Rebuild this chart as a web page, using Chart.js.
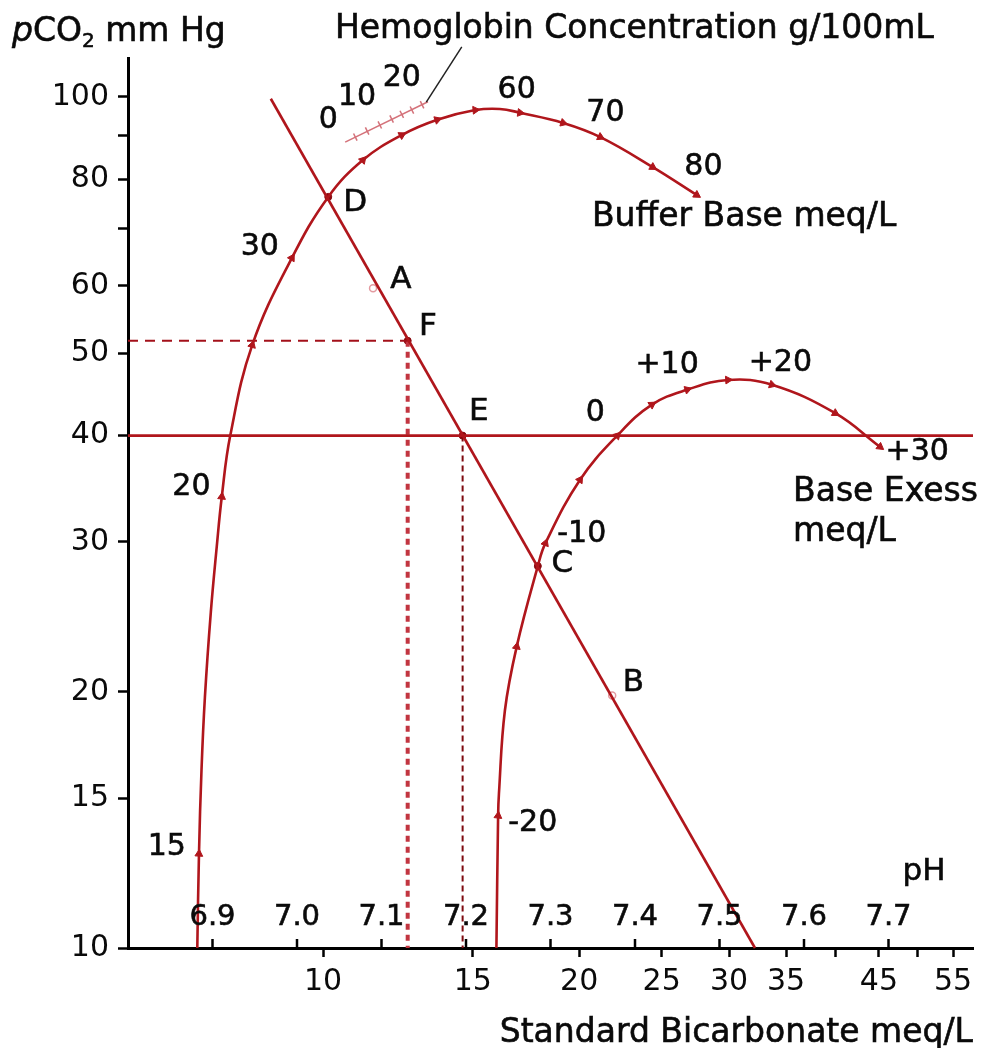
<!DOCTYPE html>
<html><head><meta charset="utf-8">
<script src="https://cdn.jsdelivr.net/npm/chart.js@4.4.1/dist/chart.umd.min.js"></script>
<style>html,body{margin:0;padding:0;background:#fff;}#wrap{width:984px;height:1048px;}</style>
</head><body><div id="wrap"><canvas id="c" width="984" height="1048"></canvas></div>
<script>
// ---- axes ----
const pHRange = [6.8, 7.8];
const pCO2Range = [10, 111.1];
const bicarbRange = [5.9, 58.05];
const pCO2Ticks = [10, 15, 20, 30, 40, 50, 60, 70, 80, 90, 100];
const pCO2Labels = [10, 15, 20, 30, 40, 50, 60, 80, 100];
const bicarbTicks = [10, 15, 20, 25, 30, 35, 40, 45, 50, 55];
const bicarbLabels = [10, 15, 20, 25, 30, 35, 45, 55];
const pHTicks = [6.9, 7.0, 7.1, 7.2, 7.3, 7.4, 7.5, 7.6, 7.7];

// ---- Buffer Base curve (pH, pCO2) ----
const bbPH   = [6.882, 6.884, 6.887, 6.891, 6.898, 6.905, 6.911, 6.921, 6.947, 6.994, 7.037, 7.078, 7.124, 7.166, 7.211, 7.240, 7.264, 7.315, 7.359, 7.421, 7.473];
const bbPCO2 = [10.0, 12.9, 16.2, 19.7, 24.8, 29.6, 33.9, 40.0, 51.1, 64.7, 76.3, 84.3, 90.2, 94.0, 96.5, 96.8, 95.8, 93.2, 89.7, 82.7, 76.7];
const bbMarkPH   = [6.884, 6.911, 6.947, 6.994, 7.078, 7.124, 7.166, 7.211, 7.264, 7.315, 7.359, 7.421, 7.473];
const bbMarkPCO2 = [12.9, 33.9, 51.1, 64.7, 84.3, 90.2, 94.0, 96.5, 95.8, 93.2, 89.7, 82.7, 76.7];

// ---- Base Excess curve ----
const bePH   = [7.236, 7.238, 7.239, 7.246, 7.260, 7.285, 7.294, 7.335, 7.379, 7.420, 7.462, 7.510, 7.562, 7.637, 7.690];
const bePCO2 = [10.0, 14.3, 15.2, 19.0, 22.6, 28.1, 29.9, 35.5, 40.0, 43.5, 45.3, 46.5, 45.9, 42.5, 38.8];
const beMarkPH   = [7.238, 7.260, 7.294, 7.335, 7.379, 7.420, 7.462, 7.510, 7.562, 7.637, 7.690];
const beMarkPCO2 = [14.3, 22.6, 29.9, 35.5, 40.0, 43.5, 45.3, 46.5, 45.9, 42.5, 38.8];

// ---- Hemoglobin scale ----
const hbPH   = [7.057, 7.155];
const hbPCO2 = [88.5, 98.7];
const hbTickPH   = [7.069, 7.083, 7.098, 7.112, 7.124, 7.136, 7.148];
const hbTickPCO2 = [89.7, 91.2, 92.7, 94.2, 95.4, 96.5, 97.9];

// ---- CO2 equilibration line & reference lines ----
const co2LinePH   = [6.969, 7.542];
const co2LinePCO2 = [99.5, 10.0];
const normalPCO2 = 40;
const pointF = [7.131, 51.7];
const pointE = [7.196, 40.0];
const pointD = [7.037, 76.3];
const pointC = [7.285, 28.1];
const pointA = [7.090, 59.6];
const pointB = [7.373, 19.8];

// ---- text annotations (anchor in pH / pCO2) ----
const numText = ["15","20","30","0","10","20","60","70","80","0","+10","+20","+30","-10","-20"];
const numPH   = [6.846, 6.875, 6.956, 7.037, 7.071, 7.124, 7.260, 7.365, 7.481, 7.353, 7.438, 7.572, 7.734, 7.337, 7.279];
const numPCO2 = [13.14, 34.8, 66.6, 94.0, 100.0, 105.3, 101.9, 95.8, 82.7, 42.5, 48.4, 48.7, 38.2, 30.6, 14.0];
const letterText = ["D","A","F","E","C","B","pH"];
const letterPH   = [7.069, 7.123, 7.155, 7.215, 7.314, 7.398, 7.742];
const letterPCO2 = [75.0, 61.0, 53.7, 42.6, 28.3, 20.5, 12.3];
const captionText = ["Buffer Base meq/L", "Base Exess", "meq/L"];
const captionPH   = [7.349, 7.587, 7.587];
const captionPCO2 = [72.1, 34.3, 30.8];

const RED = '#b0161c';
const INK = '#0a0a0a';
const FONT = '"DejaVu Sans", Verdana, sans-serif';
const zip = (a, b) => a.map((v, i) => ({x: v, y: b[i]}));

function tangentRotation(ctx) {
  const c = ctx.chart, d = ctx.dataset.data, i = ctx.dataIndex;
  if (!c.scales || !c.scales.x || !d || !d[i]) return 0;
  const sx = c.scales.x, sy = c.scales.y;
  const a = d[Math.max(0, i - 1)], b = d[Math.min(d.length - 1, i + 1)];
  const dx = sx.getPixelForValue(b.x) - sx.getPixelForValue(a.x);
  const dy = sy.getPixelForValue(b.y) - sy.getPixelForValue(a.y);
  return Math.atan2(dy, dx) * 180 / Math.PI + 90;
}

const line = (data, extra) => Object.assign({
  data, showLine: true, borderColor: RED, borderWidth: 2.6, pointRadius: 0,
  fill: false, clip: false, tension: 0
}, extra);

function heavyText(ctx, t, X, Y) {
  ctx.fillText(t, X, Y);
  ctx.strokeText(t, X, Y);
}

const overlay = {
  id: 'overlay',
  afterDraw(chart) {
    const {ctx, chartArea: ca, scales: {x, y}} = chart;
    const px = v => x.getPixelForValue(v), py = v => y.getPixelForValue(v);
    ctx.save();
    // pH ticks (inside, above the bicarbonate axis)
    ctx.strokeStyle = '#000'; ctx.lineWidth = 2.5;
    pHTicks.forEach(v => { ctx.beginPath(); ctx.moveTo(px(v), ca.bottom); ctx.lineTo(px(v), ca.bottom - 9); ctx.stroke(); });
    ctx.fillStyle = INK; ctx.strokeStyle = INK; ctx.lineWidth = 0.6;
    ctx.textAlign = 'center'; ctx.textBaseline = 'middle';
    ctx.font = '29px ' + FONT;
    pHTicks.forEach(v => heavyText(ctx, v.toFixed(1), px(v), ca.bottom - 31));
    // numbers on curves
    ctx.font = '30px ' + FONT;
    numText.forEach((t, i) => heavyText(ctx, t, px(numPH[i]), py(numPCO2[i])));
    ctx.font = '31px ' + FONT;
    letterText.forEach((t, i) => heavyText(ctx, t, px(letterPH[i]), py(letterPCO2[i])));
    ctx.textAlign = 'left';
    ctx.font = '33px ' + FONT;
    captionText.forEach((t, i) => heavyText(ctx, t, px(captionPH[i]), py(captionPCO2[i])));
    // hemoglobin leader line
    ctx.strokeStyle = '#222'; ctx.lineWidth = 1.5;
    ctx.beginPath(); ctx.moveTo(px(7.153), py(98.6)); ctx.lineTo(px(7.195), py(114.5)); ctx.stroke();
    // titles
    ctx.strokeStyle = INK; ctx.lineWidth = 0.6;
    ctx.textBaseline = 'alphabetic';
    ctx.font = '33px ' + FONT;
    heavyText(ctx, 'Hemoglobin Concentration g/100mL', 335, 38);
    ctx.textAlign = 'right';
    heavyText(ctx, 'Standard Bicarbonate meq/L', ca.right, 1042);
    ctx.textAlign = 'left';
    let tx = 12;
    ctx.font = 'italic 33px ' + FONT; heavyText(ctx, 'p', tx, 41); tx += ctx.measureText('p').width;
    ctx.font = '33px ' + FONT; heavyText(ctx, 'CO', tx, 41); tx += ctx.measureText('CO').width;
    ctx.font = '20px ' + FONT; heavyText(ctx, '2', tx, 47); tx += ctx.measureText('2').width;
    ctx.font = '33px ' + FONT; heavyText(ctx, ' mm Hg', tx, 41);
    ctx.restore();
  }
};

new Chart(document.getElementById('c'), {
  type: 'scatter',
  data: {
    datasets: [
      line(zip(bbPH, bbPCO2), {tension: 0.4}),
      line(zip(bePH, bePCO2), {tension: 0.4}),
      line(zip(co2LinePH, co2LinePCO2)),
      line([{x: pHRange[0], y: normalPCO2}, {x: pHRange[1], y: normalPCO2}]),
      line([{x: pHRange[0], y: pointF[1]}, {x: pointF[0], y: pointF[1]}], {borderDash: [10, 7], borderColor: '#a3101a', borderWidth: 2.2}),
      line([{x: pointF[0], y: pointF[1]}, {x: pointF[0], y: pCO2Range[0]}], {borderDash: [6, 5], borderColor: '#c23540', borderWidth: 4}),
      line([{x: pointE[0], y: pointE[1]}, {x: pointE[0], y: pCO2Range[0]}], {borderDash: [6, 4], borderColor: '#7e0a10', borderWidth: 2}),
      line(zip(hbPH, hbPCO2), {borderColor: '#d4727a', borderWidth: 1.5}),
      {data: zip(hbTickPH, hbTickPCO2), showLine: false, pointStyle: 'line', pointRadius: 4, pointRotation: 64, borderColor: '#d4727a', pointBorderWidth: 1.5},
      {data: zip(bbMarkPH, bbMarkPCO2), showLine: false, pointStyle: 'triangle', pointRadius: 4.5, backgroundColor: RED, borderColor: RED, pointBorderWidth: 1, rotation: tangentRotation},
      {data: zip(beMarkPH, beMarkPCO2), showLine: false, pointStyle: 'triangle', pointRadius: 4.5, backgroundColor: RED, borderColor: RED, pointBorderWidth: 1, rotation: tangentRotation},
      {data: [pointD, pointC, pointE, pointF].map(p => ({x: p[0], y: p[1]})), showLine: false, pointStyle: 'circle', pointRadius: 3.5, backgroundColor: '#8a0a10', borderColor: '#8a0a10'},
      {data: [pointA, pointB].map(p => ({x: p[0], y: p[1]})), showLine: false, pointStyle: 'circle', pointRadius: 3.5, backgroundColor: '#fff', borderColor: '#e39aa0', pointBorderWidth: 1.5}
    ]
  },
  options: {
    responsive: false, animation: false,
    layout: {padding: {left: 0, right: 11, top: 58, bottom: 0}},
    plugins: {legend: {display: false}, tooltip: {enabled: false}},
    scales: {
      x: {type: 'linear', min: pHRange[0], max: pHRange[1], display: false},
      x2: {
        type: 'logarithmic', position: 'bottom', min: bicarbRange[0], max: bicarbRange[1],
        afterBuildTicks: s => { s.ticks = bicarbTicks.map(v => ({value: v})); },
        afterFit: s => { s.height = 100; },
        ticks: {autoSkip: false, maxRotation: 0, padding: 7, color: INK, font: {family: FONT, size: 30},
                callback: v => bicarbLabels.includes(v) ? String(v) : ''},
        grid: {drawOnChartArea: false, tickLength: 9, tickWidth: 2.5, color: '#000'},
        border: {color: '#000', width: 3}
      },
      y: {
        type: 'logarithmic', min: pCO2Range[0], max: pCO2Range[1],
        afterBuildTicks: s => { s.ticks = pCO2Ticks.map(v => ({value: v})); },
        afterFit: s => { s.width = 128; },
        ticks: {autoSkip: false, padding: 9, color: INK, font: {family: FONT, size: 30},
                callback: v => pCO2Labels.includes(v) ? String(v) : ''},
        grid: {drawOnChartArea: false, tickLength: 10, tickWidth: 2.5, color: '#000'},
        border: {color: '#000', width: 3}
      }
    }
  },
  plugins: [overlay]
});
</script></body></html>
